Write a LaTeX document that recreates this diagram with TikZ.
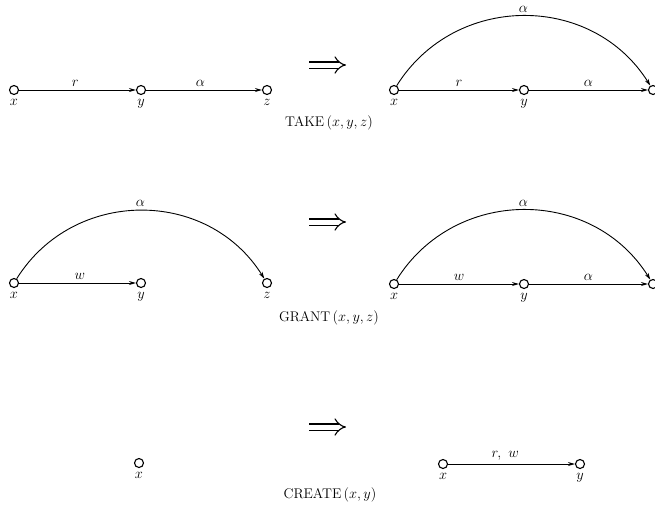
\documentclass[tikz,border=0pt]{standalone}
\usetikzlibrary{arrows.meta}
\begin{document}
\begin{tikzpicture}[x=1pt,y=-1pt,
  vert/.style={circle,draw,line width=1.1pt,inner sep=0pt,minimum size=9pt},
  edge/.style={line width=0.9pt,-{Stealth[length=7pt,width=4pt]}},
  lab/.style={font=\fontsize{14}{16}\selectfont},
  vlab/.style={lab,label distance=1pt},
  captext/.style={font=\fontsize{14}{16}\selectfont},
  impl/.style={double,double distance=5pt,line width=1.1pt,-{Implies}}]
\useasboundingbox (0,0) rectangle (655,507);
% ---- TAKE ----
\node[vert,label={[vlab]below:$x$}] (a1) at (14,90) {};
\node[vert,label={[vlab]below:$y$}] (a2) at (141,90) {};
\node[vert,label={[vlab]below:$z$}] (a3) at (267,90) {};
\draw[edge] (a1) -- node[lab,above,pos=0.48] {$r$} (a2);
\draw[edge] (a2) -- node[lab,above,pos=0.47] {$\alpha$} (a3);
\coordinate (i1s) at (309,65);
\coordinate (i1e) at (346,65);
\draw[impl] (i1s) -- (i1e);
\node[vert,label={[vlab]below:$x$}] (b1) at (394,90) {};
\node[vert,label={[vlab]below:$y$}] (b2) at (524,90) {};
\node[vert] (b3) at (653,90) {};
\draw[edge] (b1) -- node[lab,above] {$r$} (b2);
\draw[edge] (b2) -- node[lab,above] {$\alpha$} (b3);
\draw[edge] (b1) to[out=58,in=122,looseness=1.11] node[lab,above] {$\alpha$} (b3);
\node[captext] (c1) at (329,123) {TAKE\,$(x, y, z)$};
% ---- GRANT ----
\node[vert,label={[vlab]below:$x$}] (d1) at (14,283) {};
\node[vert,label={[vlab]below:$y$}] (d2) at (141,283) {};
\node[vert,label={[vlab]below:$z$}] (d3) at (267,283) {};
\draw[edge] (d1) -- node[lab,above,pos=0.52] {$w$} (d2);
\draw[edge] (d1) to[out=58,in=122,looseness=1.11] node[lab,above] {$\alpha$} (d3);
\coordinate (i2s) at (309,222);
\coordinate (i2e) at (346,222);
\draw[impl] (i2s) -- (i2e);
\node[vert,label={[vlab]below:$x$}] (e1) at (394,284) {};
\node[vert,label={[vlab]below:$y$}] (e2) at (524,284) {};
\node[vert] (e3) at (653,284) {};
\draw[edge] (e1) -- node[lab,above] {$w$} (e2);
\draw[edge] (e2) -- node[lab,above] {$\alpha$} (e3);
\draw[edge] (e1) to[out=58,in=122,looseness=1.11] node[lab,above] {$\alpha$} (e3);
\node[captext] (c2) at (329,318) {GRANT\,$(x, y, z)$};
% ---- CREATE ----
\coordinate (i3s) at (309,427);
\coordinate (i3e) at (346,427);
\draw[impl] (i3s) -- (i3e);
\node[vert,label={[vlab]below:$x$}] (f1) at (139,463) {};
\node[vert,label={[vlab]below:$x$}] (g1) at (443,464) {};
\node[vert,label={[vlab]below:$y$}] (g2) at (580,464) {};
\draw[edge] (g1) -- node[lab,above,pos=0.45] {$r,\ w$} (g2);
\node[captext] (c3) at (330,495) {CREATE\,$(x, y)$};
\end{tikzpicture}
\end{document}
